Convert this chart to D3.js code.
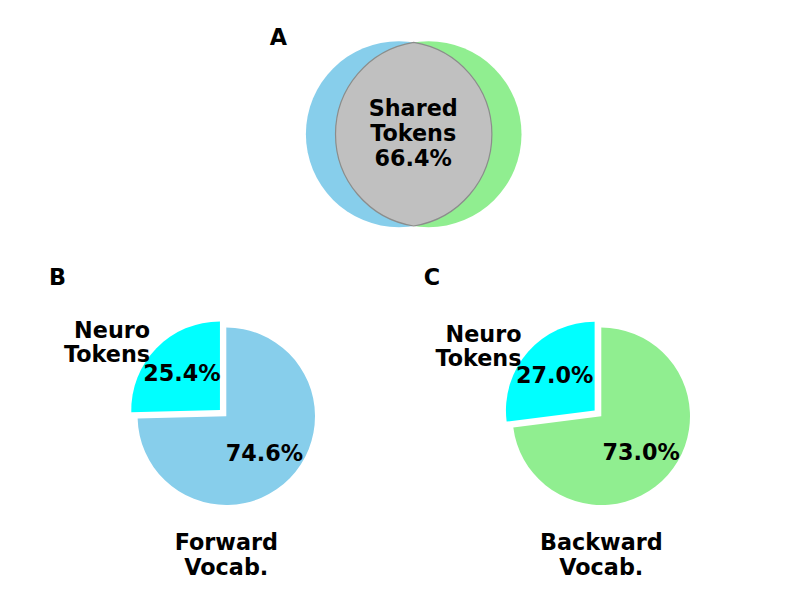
<!DOCTYPE html>
<html lang="en">
<head>
<meta charset="utf-8">
<title>Shared and Neuro Tokens</title>
<script src="https://cdnjs.cloudflare.com/ajax/libs/d3/7.8.5/d3.min.js"></script>
<style>
  body { margin: 0; background: #fff; }
  svg { display: block; font-family: 'DejaVu Sans', sans-serif; font-weight: bold; }
</style>
</head>
<body>
<svg id="chart" width="800" height="600"></svg>
<script>
// data
var vennSets = ["Forward Vocab.", "Backward Vocab."];
var vennColors = ["#87ceeb", "#90ee90"];
var sharedPct = 66.4;

var pieNames = ["Forward\nVocab.", "Backward\nVocab."];
var pieCategories = ["Neuro\nTokens", ""];
var forwardValues = [25.4, 74.6];
var backwardValues = [27.0, 73.0];
var pieColors = [["#00ffff", "#87ceeb"], ["#00ffff", "#90ee90"]];
var panelLetters = ["A", "B", "C"];

var svg = d3.select("#chart");
var fs = 22.3, lh = 24.8;

// multi-line text, block centred vertically on y
function multiText(g, x, y, txt, anchor) {
  var lines = txt.split("\n");
  var t = g.append("text")
    .attr("x", x)
    .attr("text-anchor", anchor)
    .style("font-size", fs + "px");
  lines.forEach(function(l, i) {
    t.append("tspan")
      .attr("x", x)
      .attr("y", y - (lines.length - 1) * lh / 2 + i * lh + fs * 0.36)
      .text(l);
  });
  return t;
}

// ---- A: venn ----
var r = 93;
var circleArea = Math.PI * r * r;
function lens(d) {
  return 2 * r * r * Math.acos(d / (2 * r)) - (d / 2) * Math.sqrt(4 * r * r - d * d);
}
// find centre distance so that overlap / union = sharedPct
var lo = 0, hi = 2 * r;
for (var k = 0; k < 60; k++) {
  var mid = (lo + hi) / 2;
  var L = lens(mid);
  if (L / (2 * circleArea - L) > sharedPct / 100) lo = mid; else hi = mid;
}
var dist = (lo + hi) / 2;
var vx = 413.7, vy = 134.2;
var cx = [vx - dist / 2, vx + dist / 2];

var gv = svg.append("g");
gv.selectAll("circle")
  .data(vennSets)
  .enter().append("circle")
    .attr("cx", (d, i) => cx[i])
    .attr("cy", vy)
    .attr("r", r)
    .attr("fill", (d, i) => vennColors[i]);

var a = dist / 2, h = Math.sqrt(r * r - a * a);
var lensPath = "M" + vx + "," + (vy - h) +
  "A" + r + "," + r + " 0 0 0 " + vx + "," + (vy + h) +
  "A" + r + "," + r + " 0 0 0 " + vx + "," + (vy - h) + "Z";
gv.append("path")
  .attr("d", lensPath)
  .attr("fill", "#c0c0c0")
  .attr("stroke", "#8c8c8c")
  .attr("stroke-width", 1.2);

multiText(gv, vx - 0.5, vy - 1.5, "Shared\nTokens\n" + sharedPct.toFixed(1) + "%", "middle");

svg.append("text").attr("x", 278.3).attr("y", 44.5)
  .attr("text-anchor", "middle").style("font-size", fs + "px").text(panelLetters[0]);

// ---- B, C: pies ----
var pr = 88.7;
var pieCentres = [[226.3, 416.3], [601.3, 416.3]];
var explode = [0.1, 0];

var pie = d3.pie().sort(null).startAngle(0).endAngle(-2 * Math.PI);
var arc = d3.arc().innerRadius(0).outerRadius(pr);

[forwardValues, backwardValues].forEach(function(vals, p) {
  var g = svg.append("g")
    .attr("transform", "translate(" + pieCentres[p][0] + "," + pieCentres[p][1] + ")");
  var arcs = pie(vals);
  arcs.forEach(function(d, i) {
    var m = (d.startAngle + d.endAngle) / 2;
    var off = explode[i] * pr;
    var ox = Math.sin(m) * off, oy = -Math.cos(m) * off;
    var wg = g.append("g").attr("transform", "translate(" + ox + "," + oy + ")");
    wg.append("path")
      .attr("d", arc(d))
      .attr("fill", pieColors[p][i]);
    // percentage at 0.6 r
    multiText(wg, Math.sin(m) * pr * 0.6, -Math.cos(m) * pr * 0.6,
      vals[i].toFixed(1) + "%", "middle");
    // category label at 1.1 r
    if (pieCategories[i]) {
      var lx = Math.sin(m) * pr * 1.1, ly = -Math.cos(m) * pr * 1.1;
      multiText(wg, lx, ly, pieCategories[i], lx < 0 ? "end" : "start");
    }
  });
  multiText(g, 0, 138, pieNames[p], "middle");
});

svg.append("text").attr("x", 57.5).attr("y", 284.5)
  .attr("text-anchor", "middle").style("font-size", fs + "px").text(panelLetters[1]);
svg.append("text").attr("x", 432).attr("y", 284.5)
  .attr("text-anchor", "middle").style("font-size", fs + "px").text(panelLetters[2]);
</script>
</body>
</html>
